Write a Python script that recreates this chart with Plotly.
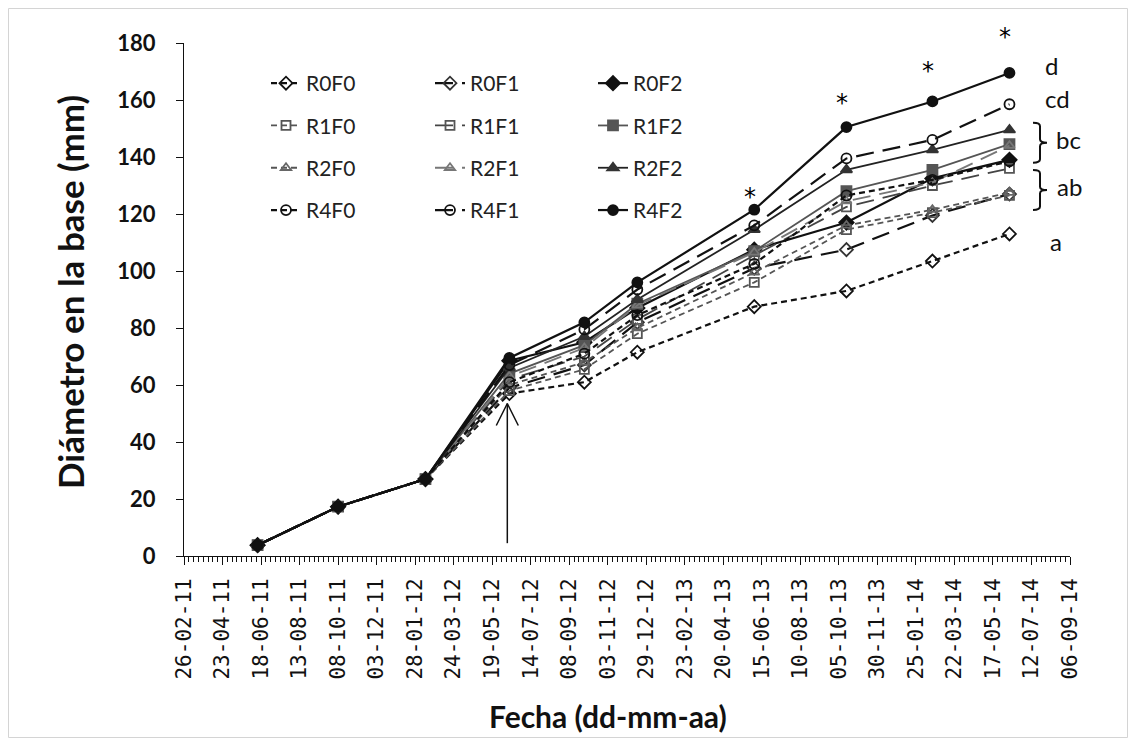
import plotly.graph_objects as go
import pandas as pd

# ---------------- data ----------------
dates = ["2011-06-13", "2011-10-08", "2012-02-12", "2012-06-13", "2012-09-30",
         "2012-12-16", "2013-06-04", "2013-10-16", "2014-02-18", "2014-06-10"]

R0F0 = [3.8, 17.3, 27.0, 57.0, 61.0, 71.5, 87.5, 93.0, 103.5, 113.0]
R0F1 = [3.8, 17.3, 27.0, 59.0, 67.0, 82.0, 101.0, 107.5, 119.5, 127.0]
R0F2 = [3.8, 17.3, 27.0, 68.5, 75.0, 87.0, 107.5, 117.0, 132.5, 139.0]
R1F0 = [3.8, 17.3, 27.0, 58.0, 65.5, 78.0, 96.0, 114.5, 120.5, 126.5]
R1F1 = [3.8, 17.3, 27.0, 62.0, 70.0, 83.0, 105.5, 122.5, 130.0, 136.0]
R1F2 = [3.8, 17.3, 27.0, 64.0, 74.0, 88.5, 107.0, 128.0, 135.5, 144.5]
R2F0 = [3.8, 17.3, 27.0, 60.0, 68.0, 80.0, 99.5, 116.0, 121.5, 127.5]
R2F1 = [3.8, 17.3, 27.0, 63.0, 73.0, 88.0, 106.5, 124.5, 131.0, 144.0]
R2F2 = [3.8, 17.3, 27.0, 66.0, 77.0, 90.0, 114.5, 135.5, 142.5, 149.5]
R4F0 = [3.8, 17.3, 27.0, 61.0, 71.0, 84.5, 102.5, 126.5, 132.0, 138.5]
R4F1 = [3.8, 17.3, 27.0, 67.0, 79.5, 93.5, 116.0, 139.5, 146.0, 158.5]
R4F2 = [3.8, 17.3, 27.0, 69.5, 82.0, 96.0, 121.5, 150.5, 159.5, 169.5]

series_names = ["R0F0", "R0F1", "R0F2", "R1F0", "R1F1", "R1F2",
                "R2F0", "R2F1", "R2F2", "R4F0", "R4F1", "R4F2"]
series_values = [R0F0, R0F1, R0F2, R1F0, R1F1, R1F2,
                 R2F0, R2F1, R2F2, R4F0, R4F1, R4F2]

# significance letters at the last date
group_letters = ["d", "cd", "bc", "ab", "a"]
# dates with significant differences (asterisks)
asterisk_dates = ["2013-06-04", "2013-10-16", "2014-02-18", "2014-06-10"]

# treatment start (arrow)
arrow_date = "2012-06-10"
arrow_from, arrow_to = 4.5, 53.5

# ---------------- styles / layout positions ----------------
FONT = "Lato"
SHORT = "6px,4px"
LONG = "18px,9px"
styles = {
    "R0F0": dict(lc="#111111", dash=SHORT, sym="diamond-open", mc="#111111", w=2.2, ms=10),
    "R0F1": dict(lc="#111111", dash=LONG, sym="diamond-open", mc="#333333", w=2.2, ms=10),
    "R0F2": dict(lc="#111111", dash="solid", sym="diamond", mc="#111111", w=2.2, ms=11),
    "R1F0": dict(lc="#555555", dash=SHORT, sym="square-open", mc="#555555", w=1.8, ms=9),
    "R1F1": dict(lc="#444444", dash=LONG, sym="square-open", mc="#555555", w=1.8, ms=9),
    "R1F2": dict(lc="#555555", dash="solid", sym="square", mc="#555555", w=1.8, ms=10),
    "R2F0": dict(lc="#555555", dash=SHORT, sym="triangle-up-open", mc="#666666", w=1.8, ms=9),
    "R2F1": dict(lc="#777777", dash=LONG, sym="triangle-up-open", mc="#777777", w=1.8, ms=9),
    "R2F2": dict(lc="#222222", dash="solid", sym="triangle-up", mc="#333333", w=1.8, ms=10),
    "R4F0": dict(lc="#111111", dash=SHORT, sym="circle-open", mc="#111111", w=2.2, ms=10),
    "R4F1": dict(lc="#111111", dash=LONG, sym="circle-open", mc="#111111", w=2.2, ms=10),
    "R4F2": dict(lc="#111111", dash="solid", sym="circle", mc="#111111", w=2.2, ms=10),
}
legend_of = {"F0": "legend", "F1": "legend2", "F2": "legend3"}

# letter placement (x in px, y in axis units) and brace spans (axis units)
letter_pos = {"d": (1043, 172.0), "cd": (1043, 160.5), "bc": (1054, 146.0),
              "ab": (1055, 129.5), "a": (1048, 110.5)}
brace_span = {"bc": (138.0, 152.0), "ab": (121.4, 135.4)}
ast_shift = [13, 24, 30, 36]

# geometry: page has an 8px body margin, so the figure is 1120x730
OFF = 8
W, H = 1120, 730
L, T = 184 - OFF, 43 - OFF
R = W - (1070 - OFF)
B = H - (556 - OFF)
PW, PH = W - L - R, H - T - B


def px2paper_x(px):
    return (px - OFF - L) / PW


def px2paper_y(py):
    return (H - B - (py - OFF)) / PH


fig = go.Figure()
for name, vals in zip(series_names, series_values):
    s = styles[name]
    fig.add_trace(go.Scatter(
        x=dates, y=vals, name=name, mode="lines+markers",
        line=dict(color=s["lc"], width=s["w"], dash=s["dash"]),
        marker=dict(symbol=s["sym"], size=s["ms"], color=s["mc"],
                    line=dict(color=s["mc"], width=1.8)),
        legend=legend_of[name[2:]], legendgroup=name,
    ))

# arrow (shaft + open V head)
ad = pd.Timestamp(arrow_date)
hw = pd.Timedelta(days=16)
head = 7.7
fig.add_trace(go.Scatter(
    x=[ad, ad, None, ad - hw, ad, ad + hw],
    y=[arrow_from, arrow_to, None, arrow_to - head, arrow_to, arrow_to - head],
    mode="lines", line=dict(color="#111", width=1.5), showlegend=False,
    hoverinfo="skip"))

annotations = []
shapes = []

# asterisks above the R4F2 points
for d, sh in zip(asterisk_dates, ast_shift):
    yv = R4F2[dates.index(d)]
    annotations.append(dict(x=d, y=yv, text="*", showarrow=False, yshift=sh, xshift=-4,
                            font=dict(family="DejaVu Sans", size=24, color="#000000")))

# group letters and braces
for letter in group_letters:
    lx, ly = letter_pos[letter]
    annotations.append(dict(xref="paper", x=px2paper_x(lx), xanchor="left",
                            y=ly, yref="y", text=letter, showarrow=False,
                            font=dict(family=FONT, size=24, color="#111")))
    if letter in brace_span:
        y0, y1 = brace_span[letter]
        ym = (y0 + y1) / 2
        xl, xs, xt = px2paper_x(1033), px2paper_x(1040), px2paper_x(1047)
        r = 1.2
        path = (f"M{xl},{y1} Q{xs},{y1} {xs},{y1 - r} L{xs},{ym + r} "
                f"Q{xs},{ym} {xt},{ym} Q{xs},{ym} {xs},{ym - r} "
                f"L{xs},{y0 + r} Q{xs},{y0} {xl},{y0}")
        shapes.append(dict(type="path", xref="paper", yref="y", path=path,
                           line=dict(color="#111", width=2)))

# axis titles
annotations.append(dict(xref="paper", yref="paper", x=px2paper_x(608), y=px2paper_y(716),
                        xanchor="center", yanchor="middle", showarrow=False,
                        text="<b>Fecha (dd-mm-aa)</b>",
                        font=dict(family=FONT, size=30, color="#111")))
annotations.append(dict(xref="paper", yref="paper", x=px2paper_x(70), y=px2paper_y(292),
                        xanchor="center", yanchor="middle", showarrow=False, textangle=-90,
                        text="<b>Diámetro en la base (mm)</b>",
                        font=dict(family=FONT, size=35, color="#111")))

# light grey border around the whole picture
shapes.append(dict(type="rect", xref="paper", yref="paper",
                   x0=px2paper_x(8.5), x1=px2paper_x(1127.5),
                   y0=px2paper_y(737.5), y1=px2paper_y(8.5),
                   line=dict(color="#d4d4d4", width=1), layer="below"))

legend_common = dict(font=dict(family=FONT, size=21, color="#222"),
                     bgcolor="rgba(0,0,0,0)", traceorder="grouped",
                     tracegroupgap=12, xanchor="left", yanchor="top",
                     itemwidth=30)
fig.update_layout(
    width=W, height=H,
    margin=dict(l=L, r=R, t=T, b=B),
    paper_bgcolor="white", plot_bgcolor="white",
    showlegend=True,
    legend=dict(x=px2paper_x(266), y=px2paper_y(63), **legend_common),
    legend2=dict(x=px2paper_x(430), y=px2paper_y(63), **legend_common),
    legend3=dict(x=px2paper_x(593), y=px2paper_y(63), **legend_common),
    annotations=annotations, shapes=shapes,
    font=dict(family=FONT, color="#111"),
)

fig.update_xaxes(
    type="date", range=["2011-02-26", "2014-09-06"],
    tick0="2011-02-26", dtick=56 * 86400000, tickformat="%d-%m-%y",
    tickangle=-90, tickfont=dict(family="DejaVu Sans Mono", size=21, color="#111"),
    ticks="outside", ticklen=8, tickcolor="#111", tickwidth=1, ticklabelstandoff=5,
    minor=dict(dtick=7 * 86400000, tick0="2011-02-26", ticks="outside",
               ticklen=5, tickcolor="#111", tickwidth=1, showgrid=False),
    showline=True, linecolor="#111", linewidth=1, showgrid=False, zeroline=False,
)
fig.update_yaxes(
    range=[0, 180], dtick=20, tick0=0,
    tickfont=dict(family=FONT, size=22, color="#111", weight="bold"),
    ticks="outside", ticklen=7, tickcolor="#111", tickwidth=1, ticklabelstandoff=16,
    showline=True, linecolor="#111", linewidth=1, showgrid=False, zeroline=False,
)

fig.write_html("out.html")
